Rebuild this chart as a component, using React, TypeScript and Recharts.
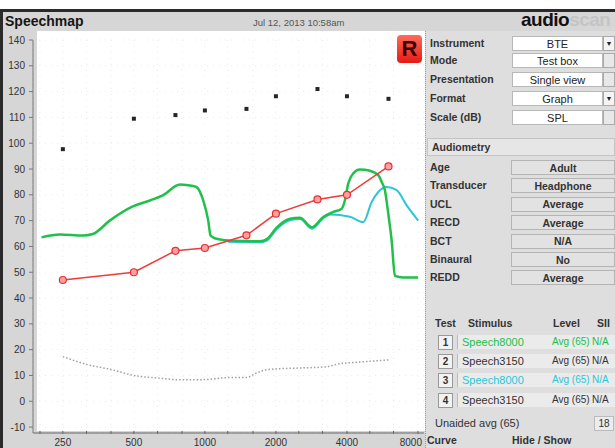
import React from 'react';
import { LineChart, Line, XAxis, YAxis, CartesianGrid } from 'recharts';

// audiometric frequencies (Hz)
const audFreqs = [250, 500, 750, 1000, 1500, 2000, 3000, 4000, 6000];
const uclDb = [97.7, 109.5, 110.9, 112.7, 113.3, 118.2, 121, 118.2, 117.2];
const thresholdDb = [47, 50, 58.3, 59.4, 64.3, 72.7, 78.2, 80, 91];

// normal hearing threshold (dotted grey)
const normalFreqs = [250, 315, 400, 500, 630, 800, 1000, 1275, 1500, 1660, 1850, 2540, 3220, 3720, 4500, 6000];
const normalDb = [17.3, 14.3, 12.3, 10, 9, 8.3, 8.4, 9.2, 9.2, 11, 12.3, 12.9, 13.3, 14.5, 15.2, 16];

// test 1 (green) speech curve
const test1Freqs = [203, 243, 304, 335, 395, 495, 585, 663, 784, 890, 922, 983, 1033, 1057, 1100, 1319, 1711, 1832, 2020, 2293, 2528, 2843, 3165, 3490, 3798, 3923, 4051, 4255, 4541, 5008, 5431, 5614, 5796, 5987, 6190, 6389, 6910, 8020];
const test1Db = [63.5, 64.6, 64.2, 64.8, 70, 75.5, 77.8, 79.8, 84, 83.4, 83, 77.9, 70, 64.2, 63.2, 62.2, 62, 62.9, 67.4, 70.7, 71.1, 67.4, 71.3, 73.3, 74.6, 77.9, 84.4, 88.3, 89.8, 89.3, 87.6, 85, 81.7, 72.7, 62.2, 48.6, 48, 48];

// test 3 (cyan) speech curve
const test3Freqs = [1250, 1700, 1830, 2020, 2290, 2530, 2840, 3165, 3390, 4118, 4692, 5092, 5431, 5893, 6498, 7166, 8020];
const test3Db = [61.8, 61.6, 62.3, 66.8, 70.1, 70.6, 66.9, 70.8, 72.4, 71.5, 69.4, 77.2, 81.1, 83, 81.8, 75.9, 70];

const octaveTicks = [250, 500, 1000, 2000, 4000, 8000];
const thirdOctaveTicks = [200, 250, 315, 400, 500, 630, 800, 1000, 1250, 1600, 2000, 2500, 3150, 4000, 5000, 6300, 8000];
const dbTicks = [-10, 0, 10, 20, 30, 40, 50, 60, 70, 80, 90, 100, 110, 120, 130, 140];

const zip = (fs: number[], ds: number[]) => fs.map((f, i) => ({ f, db: ds[i] }));

const uclData = zip(audFreqs, uclDb);
const thresholdData = zip(audFreqs, thresholdDb);
const normalData = zip(normalFreqs, normalDb);
const test1Data = zip(test1Freqs, test1Db);
const test3Data = zip(test3Freqs, test3Db);

const settings = [
  ['Instrument', 'BTE', true],
  ['Mode', 'Test box', false],
  ['Presentation', 'Single view', false],
  ['Format', 'Graph', true],
  ['Scale (dB)', 'SPL', false],
];
const settingsY = [43, 60, 79, 98, 117];

const audiometry = [
  ['Age', 'Adult'],
  ['Transducer', 'Headphone'],
  ['UCL', 'Average'],
  ['RECD', 'Average'],
  ['BCT', 'N/A'],
  ['Binaural', 'No'],
  ['REDD', 'Average'],
];

const tests = [
  ['1', 'Speech8000', 'Avg (65)', 'N/A', '#22c04a'],
  ['2', 'Speech3150', 'Avg (65)', 'N/A', '#333'],
  ['3', 'Speech8000', 'Avg (65)', 'N/A', '#2cc6d8'],
  ['4', 'Speech3150', 'Avg (65)', 'N/A', '#333'],
];

const font = '"Liberation Sans", Arial, sans-serif';

const Txt = ({ x, cy, w, children, style }: any) => (
  <div
    style={{
      position: 'absolute',
      left: x,
      top: cy - 7,
      width: w,
      height: 14,
      lineHeight: '14px',
      fontSize: 10.5,
      fontWeight: 700,
      color: '#333',
      whiteSpace: 'nowrap',
      ...style,
    }}
  >
    {children}
  </div>
);

const UclMark = (props: any) => {
  const { cx, cy } = props;
  if (cx == null || cy == null) return null;
  return <rect x={cx - 2} y={cy - 2} width={4} height={4} fill="#262626" />;
};

const XTick = (props: any) => {
  const { x, y, payload } = props;
  const show = octaveTicks.includes(payload.value);
  // last label sits against the side panel, so it is pulled left
  const last = payload.value === octaveTicks[octaveTicks.length - 1];
  return (
    <g>
      <line x1={x} x2={x} y1={y - 2} y2={y + 1} stroke="#666" />
      {show && (
        <text x={last ? x + 4 : x} y={y + 13} textAnchor={last ? 'end' : 'middle'} fontSize={10} fill="#333" fontFamily={font}>
          {payload.value}
        </text>
      )}
    </g>
  );
};

export default function App() {
  return (
    <div
      style={{
        position: 'absolute',
        left: 0,
        top: 0,
        width: 615,
        height: 448,
        overflow: 'hidden',
        background: '#d6d6d6',
        fontFamily: font,
      }}
    >
      <div style={{ position: 'absolute', left: 0, top: 0, width: 615, height: 9, background: '#fff' }} />
      <div style={{ position: 'absolute', left: 0, top: 9, width: 615, height: 3, background: '#2a2a2a' }} />
      <div style={{ position: 'absolute', left: 0, top: 9, width: 3, height: 439, background: '#2a2a2a' }} />

      <div style={{ position: 'absolute', left: 5, top: 13, fontSize: 14, fontWeight: 700, color: '#151515' }}>Speechmap</div>
      <div style={{ position: 'absolute', left: 253, top: 17, fontSize: 9.5, color: '#555' }}>Jul 12, 2013 10:58am</div>
      <div style={{ position: 'absolute', left: 521, top: 9, fontSize: 19, fontWeight: 700, letterSpacing: -0.5 }}>
        <span style={{ color: '#111' }}>audio</span>
        <span style={{ color: '#c4c4c4' }}>scan</span>
      </div>

      {/* plot background */}
      <div style={{ position: 'absolute', left: 37, top: 31, width: 388, height: 400, background: '#fff' }} />

      {/* right panel */}
      <div style={{ position: 'absolute', left: 425, top: 31, width: 190, height: 417, background: '#dedede', borderLeft: '1px dotted #999' }} />

      <div style={{ position: 'absolute', left: 0, top: 0 }}>
        <LineChart width={425} height={448} margin={{ top: 40, right: 1, bottom: 0, left: 0 }}>
          <CartesianGrid stroke="#ececec" strokeDasharray="1 5" />
          <XAxis
            dataKey="f"
            type="number"
            scale="log"
            domain={[186.8, 8485]}
            allowDataOverflow
            ticks={thirdOctaveTicks}
            interval={0}
            height={15}
            tickSize={0}
            tickMargin={0}
            axisLine={{ stroke: '#666' }}
            tickLine={false}
            tick={<XTick />}
          />
          <YAxis
            type="number"
            domain={[-12.3, 140]}
            allowDataOverflow
            ticks={dbTicks}
            interval={0}
            width={33}
            tickSize={4}
            tickMargin={4}
            axisLine={{ stroke: '#777' }}
            tickLine={{ stroke: '#777' }}
            tick={{ fontSize: 10, fill: '#333', fontFamily: font }}
          />
          <Line data={normalData} dataKey="db" type="monotone" stroke="#a0a0a0" strokeWidth={1.5} strokeDasharray="1.5 2" dot={false} isAnimationActive={false} />
          <Line data={test3Data} dataKey="db" type="monotone" stroke="#2cc6d8" strokeWidth={2} dot={false} isAnimationActive={false} />
          <Line data={test1Data} dataKey="db" type="monotone" stroke="#22c04a" strokeWidth={2.5} dot={false} isAnimationActive={false} />
          <Line data={thresholdData} dataKey="db" type="linear" stroke="#ee3b3b" strokeWidth={1.5} dot={{ r: 3.5, stroke: '#e53030', strokeWidth: 1.2, fill: '#ffa0a0' }} isAnimationActive={false} />
          <Line data={uclData} dataKey="db" stroke="none" dot={<UclMark />} isAnimationActive={false} />
        </LineChart>
      </div>

      {/* R badge */}
      <div
        style={{
          position: 'absolute',
          left: 397,
          top: 35,
          width: 25,
          height: 28,
          borderRadius: 4,
          background: 'linear-gradient(#ff6a5a, #e41a14)',
          color: '#3a0000',
          fontSize: 22,
          fontWeight: 700,
          textAlign: 'center',
          lineHeight: '28px',
        }}
      >
        R
      </div>

      {settings.map(([label, value, drop], i) => (
        <React.Fragment key={label as string}>
          <Txt x={430} cy={settingsY[i]}>{label}</Txt>
          <div style={{ position: 'absolute', left: 512, top: settingsY[i] - 7, width: 89, height: 13, background: '#fff', border: '1px solid #b8b8b8' }} />
          <Txt x={512} cy={settingsY[i] + 1} w={91} style={{ textAlign: 'center', fontWeight: 400, fontSize: 11, color: '#222' }}>{value}</Txt>
          <div
            style={{
              position: 'absolute',
              left: 603,
              top: settingsY[i] - 7,
              width: 10,
              height: 13,
              background: drop ? '#f4f4f4' : '#e8e8e8',
              border: '1px solid #aaa',
              fontSize: 7,
              lineHeight: '13px',
              textAlign: 'center',
              color: '#222',
            }}
          >
            {drop ? '▼' : ''}
          </div>
        </React.Fragment>
      ))}

      <div style={{ position: 'absolute', left: 427, top: 138, width: 186, height: 16, background: '#e6e6e6', border: '1px solid #c4c4c4' }} />
      <Txt x={432} cy={146.5}>Audiometry</Txt>

      {audiometry.map(([label, value], i) => {
        const cy = 167 + i * 18.4;
        return (
          <React.Fragment key={label}>
            <Txt x={430} cy={cy}>{label}</Txt>
            <div style={{ position: 'absolute', left: 511, top: cy - 7, width: 102, height: 13, background: '#e2e2e2', border: '1px solid #b4b4b4' }} />
            <Txt x={511} cy={cy + 0.5} w={104} style={{ textAlign: 'center' }}>{value}</Txt>
          </React.Fragment>
        );
      })}

      <Txt x={435} cy={323}>Test</Txt>
      <Txt x={468} cy={323}>Stimulus</Txt>
      <Txt x={553} cy={323}>Level</Txt>
      <Txt x={597} cy={323}>SII</Txt>

      {tests.map(([n, stim, level, sii, color], i) => {
        const cy = 342 + i * 19.2;
        return (
          <React.Fragment key={n}>
            <div style={{ position: 'absolute', left: 438, top: cy - 7, width: 13, height: 13, background: '#f2f2f2', border: '1px solid #999', fontSize: 10, fontWeight: 700, lineHeight: '13px', textAlign: 'center', color: '#333' }}>{n}</div>
            <div style={{ position: 'absolute', left: 457, top: cy - 7, width: 158, height: 14, background: '#ebebeb', borderLeft: '1px solid #bbb' }} />
            <Txt x={462} cy={cy} style={{ fontWeight: 400, fontSize: 11, color }}>{stim}</Txt>
            <Txt x={552} cy={cy} style={{ fontWeight: 400, fontSize: 10, color }}>{level}</Txt>
            <Txt x={592} cy={cy} style={{ fontWeight: 400, fontSize: 10, color }}>{sii}</Txt>
          </React.Fragment>
        );
      })}

      <Txt x={435} cy={423} style={{ fontWeight: 400, fontSize: 11 }}>Unaided avg (65)</Txt>
      <div style={{ position: 'absolute', left: 594, top: 416, width: 18, height: 13, background: '#ececec', border: '1px solid #bbb', fontSize: 10, lineHeight: '13px', textAlign: 'center', color: '#333' }}>18</div>

      <Txt x={427} cy={440} style={{ fontSize: 10.5 }}>Curve</Txt>
      <Txt x={512} cy={440} style={{ fontSize: 10.5 }}>Hide / Show</Txt>
    </div>
  );
}
